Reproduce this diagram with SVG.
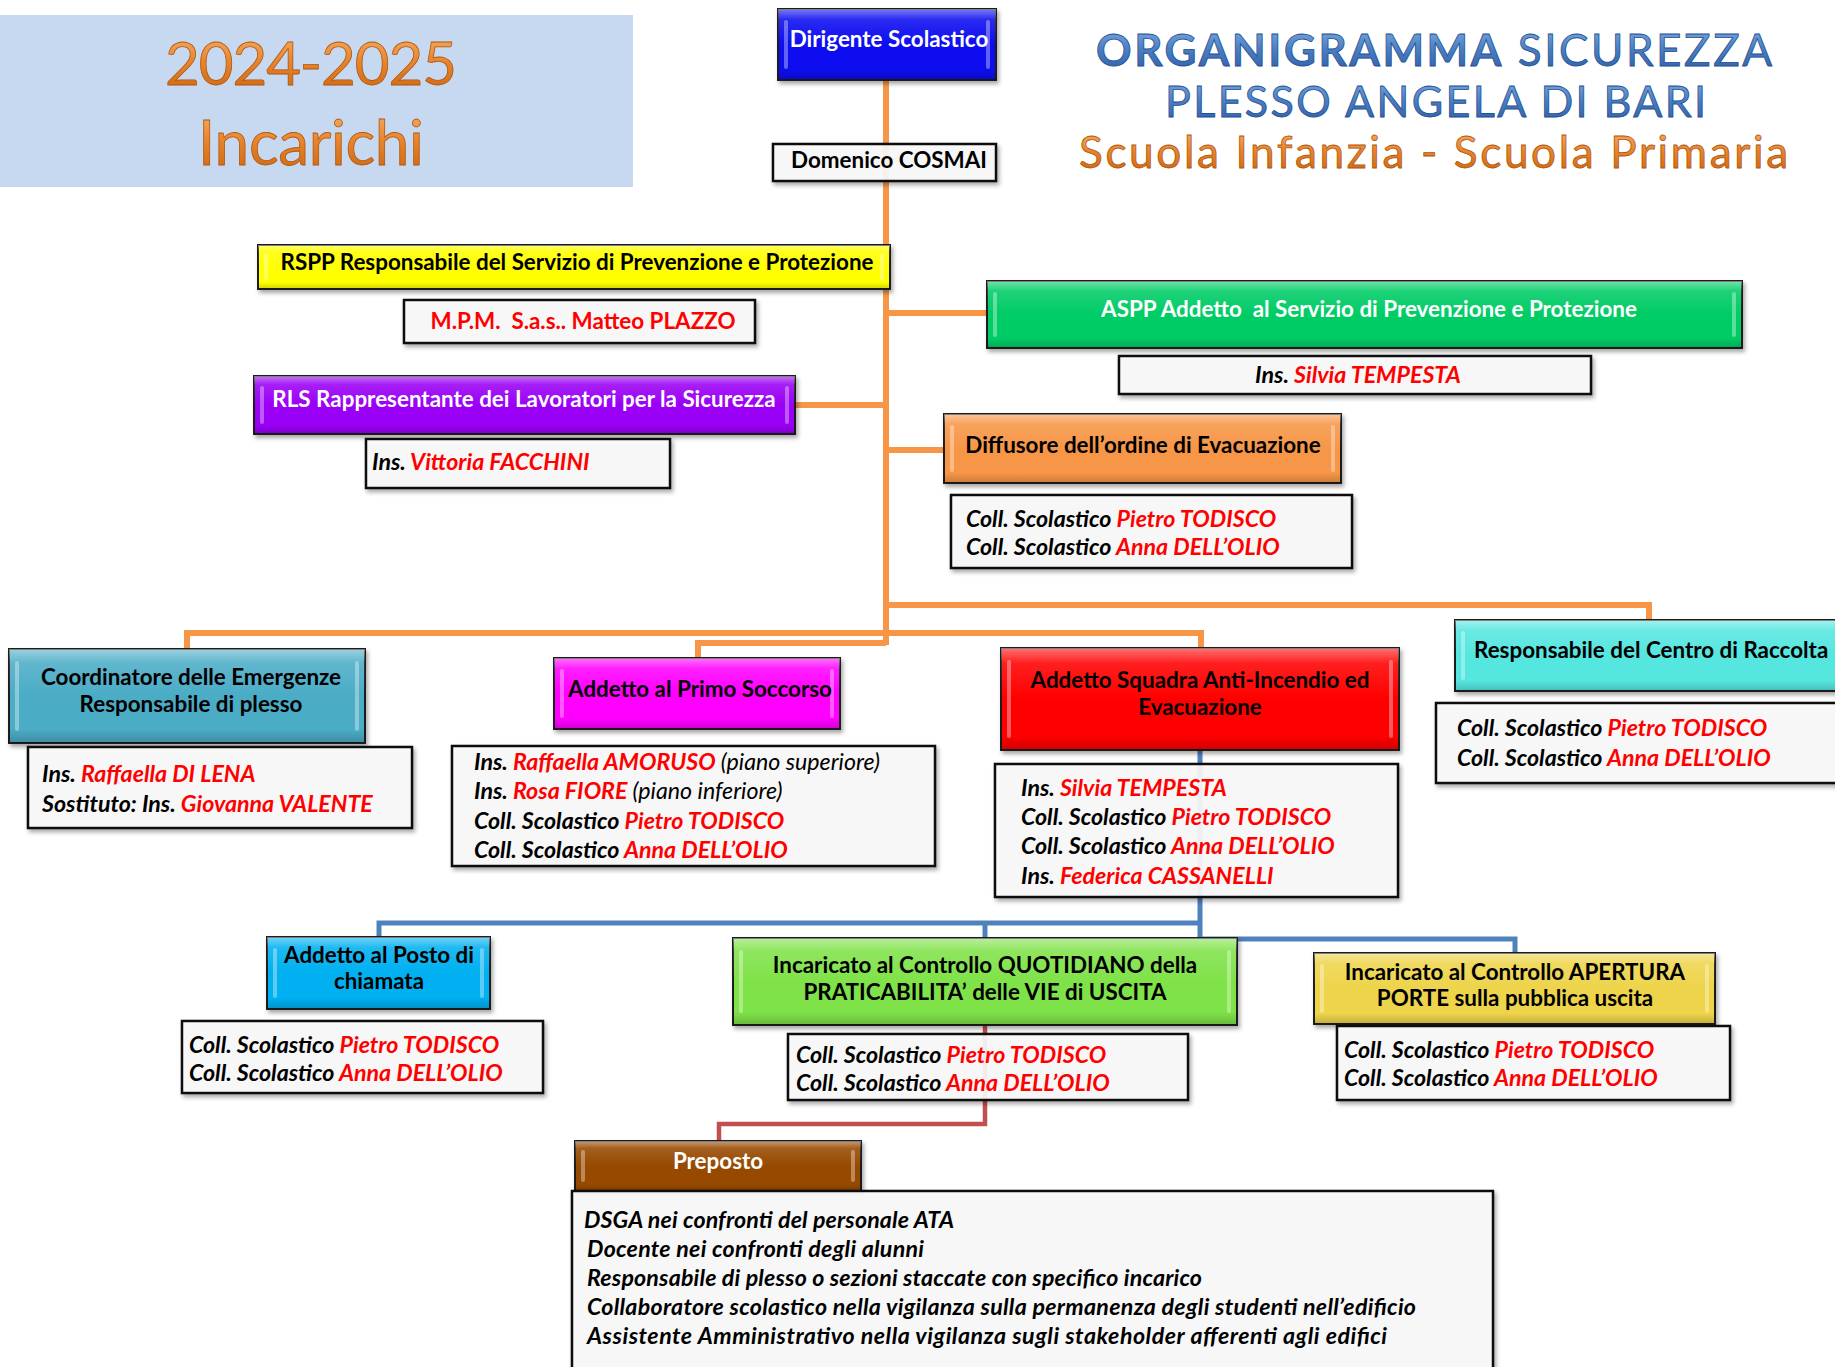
<svg xmlns="http://www.w3.org/2000/svg" width="1835" height="1367" viewBox="0 0 1835 1367">
<defs>
  <filter id="sh" x="-5%" y="-15%" width="112%" height="140%">
    <feDropShadow dx="2" dy="3" stdDeviation="2" flood-color="#000" flood-opacity="0.35"/>
  </filter>
  <linearGradient id="gloss" x1="0" y1="0" x2="0" y2="1">
    <stop offset="0" stop-color="#fff" stop-opacity="0.45"/>
    <stop offset="0.15" stop-color="#fff" stop-opacity="0.12"/>
    <stop offset="0.5" stop-color="#fff" stop-opacity="0"/>
    <stop offset="0.85" stop-color="#000" stop-opacity="0"/>
    <stop offset="1" stop-color="#000" stop-opacity="0.18"/>
  </linearGradient>
  <linearGradient id="org" x1="0" y1="0" x2="0" y2="1">
    <stop offset="0" stop-color="#F9B673"/>
    <stop offset="0.5" stop-color="#E8842C"/>
    <stop offset="1" stop-color="#C9620F"/>
  </linearGradient>
  <linearGradient id="blu" x1="0" y1="0" x2="0" y2="1">
    <stop offset="0" stop-color="#86B2E4"/>
    <stop offset="0.5" stop-color="#4A7FC4"/>
    <stop offset="1" stop-color="#2A5CA6"/>
  </linearGradient>
</defs>
<style>
  text { font-family: Lato, "Open Sans", "Liberation Sans", sans-serif; }
  .h { font-weight: 700; font-size: 22.4px; fill: #000; }
  .w { fill: #fff; }
  .c { text-anchor: middle; }
  .p { font-weight: 700; font-style: italic; font-size: 23.2px; fill: #000; }
  .r { fill: #FF0000; }
  .n { font-weight: 400; }
  .box { stroke: #1b1b1b; stroke-width: 2; filter: url(#sh); }
  .pb { fill: #FBFBFB; fill-opacity: 0.9; stroke: #111; stroke-width: 2.5; filter: url(#sh); }
  .gl { fill: url(#gloss); stroke: none; }
  .bv { fill: #fff; fill-opacity: 0.35; }
  .co { fill: none; stroke: #F79646; stroke-width: 6; }
  .cb { fill: none; stroke: #4F81BD; stroke-width: 5; }
  .cr { fill: none; stroke: #C0504D; stroke-width: 4.5; }
  .tio { fill: url(#org); stroke: #B0570F; stroke-width: 0.8; }
  .tib { fill: url(#blu); stroke: #244F8E; stroke-width: 0.8; }
</style>
<rect width="1835" height="1367" fill="#fff"/>

<g id="header-incarichi">
  <rect x="0" y="15" width="633" height="172" fill="#C6D9F1"/>
  <text class="tio c" x="311" y="85" font-size="60" textLength="292">2024-2025</text>
  <text class="tio c" x="311" y="165" font-size="62" textLength="226">Incarichi</text>
</g>

<g id="title">
  <text class="tib" x="1096" y="66" font-size="44" textLength="676"><tspan font-weight="700">ORGANIGRAMMA</tspan> SICUREZZA</text>
  <text class="tib" x="1165" y="117" font-size="43" textLength="541">PLESSO ANGELA DI BARI</text>
  <text class="tio" x="1079" y="168" font-size="44" textLength="709">Scuola Infanzia - Scuola Primaria</text>
</g>

<g id="connectors">
  <path class="co" d="M886,80 V645"/>
  <path class="co" d="M886,313 H987"/>
  <path class="co" d="M795,405 H886"/>
  <path class="co" d="M886,450 H944"/>
  <path class="co" d="M886,605 H1649 V620"/>
  <path class="co" d="M187,649 V633 H1201 V648"/>
  <path class="co" d="M886,643 H698 V658"/>
  <path class="cb" d="M1200,750 V939"/>
  <path class="cb" d="M1200,923 H379 V937"/>
  <path class="cb" d="M985,923 V938"/>
  <path class="cb" d="M1200,939 H1515 V953"/>
  <path class="cr" d="M985,1025 V1124 H719 V1141"/>
</g>

<g id="dirigente">
  <rect class="box" x="778" y="9" width="218" height="71" fill="#0B0BF0"/>
  <rect class="gl" x="778" y="9" width="218" height="71"/>
  <rect class="bv" x="784" y="20" width="4" height="49" rx="2"/>
  <rect class="bv" x="986" y="20" width="4" height="49" rx="2"/>
  <text class="h w c" x="889" y="47" font-size="23.2">Dirigente Scolastico</text>
</g>

<g id="cosmai">
  <rect class="pb" x="773" y="144" width="223" height="37"/>
  <text class="h c" x="889" y="168" font-size="22.2">Domenico COSMAI</text>
</g>

<g id="rspp">
  <rect class="box" x="258" y="245" width="632" height="44" fill="#FFFF00"/>
  <rect class="gl" x="258" y="245" width="632" height="44"/>
  <rect class="bv" x="264" y="253" width="4" height="28" rx="2"/>
  <rect class="bv" x="880" y="253" width="4" height="28" rx="2"/>
  <text class="h c" x="577" y="270">RSPP Responsabile del Servizio di Prevenzione e Protezione</text>
</g>

<g id="rspp-persona">
  <rect class="pb" x="404" y="300" width="351" height="43"/>
  <text class="h r c" x="583" y="329">M.P.M.&#160; S.a.s.. Matteo PLAZZO</text>
</g>

<g id="rls">
  <rect class="box" x="254" y="376" width="541" height="58" fill="#9A00F5"/>
  <rect class="gl" x="254" y="376" width="541" height="58"/>
  <rect class="bv" x="260" y="386" width="4" height="38" rx="2"/>
  <rect class="bv" x="785" y="386" width="4" height="38" rx="2"/>
  <text class="h w c" x="524" y="407">RLS Rappresentante dei Lavoratori per la Sicurezza</text>
</g>

<g id="rls-persona">
  <rect class="pb" x="366" y="439" width="304" height="49"/>
  <text class="p" x="372" y="470">Ins. <tspan class="r">Vittoria FACCHINI</tspan></text>
</g>

<g id="aspp">
  <rect class="box" x="987" y="281" width="755" height="67" fill="#00CC66"/>
  <rect class="gl" x="987" y="281" width="755" height="67"/>
  <rect class="bv" x="993" y="292" width="4" height="45" rx="2"/>
  <rect class="bv" x="1732" y="292" width="4" height="45" rx="2"/>
  <text class="h w c" x="1369" y="317">ASPP Addetto&#160; al Servizio di Prevenzione e Protezione</text>
</g>

<g id="aspp-persona">
  <rect class="pb" x="1119" y="356" width="472" height="38"/>
  <text class="p c" x="1358" y="383">Ins. <tspan class="r">Silvia TEMPESTA</tspan></text>
</g>

<g id="diffusore">
  <rect class="box" x="944" y="414" width="397" height="69" fill="#F79646"/>
  <rect class="gl" x="944" y="414" width="397" height="69"/>
  <rect class="bv" x="950" y="425" width="4" height="47" rx="2"/>
  <rect class="bv" x="1331" y="425" width="4" height="47" rx="2"/>
  <text class="h c" x="1143" y="453">Diffusore dell’ordine di Evacuazione</text>
</g>

<g id="diffusore-persone">
  <rect class="pb" x="951" y="495" width="401" height="73"/>
  <text class="p" x="966" y="527">Coll. Scolastico <tspan class="r">Pietro TODISCO</tspan></text>
  <text class="p" x="966" y="555">Coll. Scolastico <tspan class="r">Anna DELL’OLIO</tspan></text>
</g>

<g id="coordinatore">
  <rect class="box" x="9" y="649" width="356" height="94" fill="#4BACC6"/>
  <rect class="gl" x="9" y="649" width="356" height="94"/>
  <rect class="bv" x="15" y="661" width="4" height="70" rx="2"/>
  <rect class="bv" x="355" y="661" width="4" height="70" rx="2"/>
  <text class="h c" x="191" y="685">Coordinatore delle Emergenze</text>
  <text class="h c" x="191" y="712">Responsabile di plesso</text>
</g>

<g id="coordinatore-persone">
  <rect class="pb" x="28" y="747" width="384" height="81"/>
  <text class="p" x="42" y="782">Ins. <tspan class="r">Raffaella DI LENA</tspan></text>
  <text class="p" x="42" y="812">Sostituto: Ins. <tspan class="r">Giovanna VALENTE</tspan></text>
</g>

<g id="primo-soccorso">
  <rect class="box" x="554" y="658" width="286" height="71" fill="#FF00FF"/>
  <rect class="gl" x="554" y="658" width="286" height="71"/>
  <rect class="bv" x="560" y="669" width="4" height="49" rx="2"/>
  <rect class="bv" x="830" y="669" width="4" height="49" rx="2"/>
  <text class="h c" x="700" y="697">Addetto al Primo Soccorso</text>
</g>

<g id="primo-soccorso-persone">
  <rect class="pb" x="452" y="746" width="483" height="120"/>
  <text class="p" x="474" y="770">Ins. <tspan class="r">Raffaella AMORUSO</tspan> <tspan class="n">(piano superiore)</tspan></text>
  <text class="p" x="474" y="799">Ins. <tspan class="r">Rosa FIORE</tspan> <tspan class="n">(piano inferiore)</tspan></text>
  <text class="p" x="474" y="829">Coll. Scolastico <tspan class="r">Pietro TODISCO</tspan></text>
  <text class="p" x="474" y="858">Coll. Scolastico <tspan class="r">Anna DELL’OLIO</tspan></text>
</g>

<g id="antincendio">
  <rect class="box" x="1001" y="648" width="398" height="102" fill="#FF0000"/>
  <rect class="gl" x="1001" y="648" width="398" height="102"/>
  <rect class="bv" x="1007" y="660" width="4" height="78" rx="2"/>
  <rect class="bv" x="1389" y="660" width="4" height="78" rx="2"/>
  <text class="h c" x="1200" y="688">Addetto Squadra Anti-Incendio ed</text>
  <text class="h c" x="1200" y="715">Evacuazione</text>
</g>

<g id="antincendio-persone">
  <rect class="pb" x="995" y="764" width="403" height="133"/>
  <text class="p" x="1021" y="796">Ins. <tspan class="r">Silvia TEMPESTA</tspan></text>
  <text class="p" x="1021" y="825">Coll. Scolastico <tspan class="r">Pietro TODISCO</tspan></text>
  <text class="p" x="1021" y="854">Coll. Scolastico <tspan class="r">Anna DELL’OLIO</tspan></text>
  <text class="p" x="1021" y="884">Ins. <tspan class="r">Federica CASSANELLI</tspan></text>
</g>

<g id="centro-raccolta">
  <rect class="box" x="1455" y="620" width="420" height="71" fill="#57E6E0"/>
  <rect class="gl" x="1455" y="620" width="420" height="71"/>
  <rect class="bv" x="1461" y="631" width="4" height="49" rx="2"/>
  <text class="h" x="1474" y="658">Responsabile del Centro di Raccolta</text>
</g>

<g id="centro-raccolta-persone">
  <rect class="pb" x="1436" y="703" width="420" height="80"/>
  <text class="p" x="1457" y="736">Coll. Scolastico <tspan class="r">Pietro TODISCO</tspan></text>
  <text class="p" x="1457" y="766">Coll. Scolastico <tspan class="r">Anna DELL’OLIO</tspan></text>
</g>

<g id="posto-chiamata">
  <rect class="box" x="267" y="937" width="223" height="72" fill="#00B0F0"/>
  <rect class="gl" x="267" y="937" width="223" height="72"/>
  <rect class="bv" x="273" y="948" width="4" height="50" rx="2"/>
  <rect class="bv" x="480" y="948" width="4" height="50" rx="2"/>
  <text class="h c" x="379" y="963">Addetto al Posto di</text>
  <text class="h c" x="379" y="989">chiamata</text>
</g>

<g id="posto-chiamata-persone">
  <rect class="pb" x="182" y="1021" width="361" height="72"/>
  <text class="p" x="189" y="1053">Coll. Scolastico <tspan class="r">Pietro TODISCO</tspan></text>
  <text class="p" x="189" y="1081">Coll. Scolastico <tspan class="r">Anna DELL’OLIO</tspan></text>
</g>

<g id="controllo-quotidiano">
  <rect class="box" x="733" y="938" width="504" height="87" fill="#80E24A"/>
  <rect class="gl" x="733" y="938" width="504" height="87"/>
  <rect class="bv" x="739" y="950" width="4" height="63" rx="2"/>
  <rect class="bv" x="1227" y="950" width="4" height="63" rx="2"/>
  <text class="h c" x="985" y="973" font-size="22">Incaricato al Controllo QUOTIDIANO della</text>
  <text class="h c" x="985" y="1000" font-size="22">PRATICABILITA’ delle VIE di USCITA</text>
</g>

<g id="controllo-quotidiano-persone">
  <rect class="pb" x="788" y="1034" width="400" height="66"/>
  <text class="p" x="796" y="1063">Coll. Scolastico <tspan class="r">Pietro TODISCO</tspan></text>
  <text class="p" x="796" y="1091">Coll. Scolastico <tspan class="r">Anna DELL’OLIO</tspan></text>
</g>

<g id="controllo-apertura">
  <rect class="box" x="1314" y="953" width="401" height="71" fill="#EED44C"/>
  <rect class="gl" x="1314" y="953" width="401" height="71"/>
  <rect class="bv" x="1320" y="964" width="4" height="49" rx="2"/>
  <rect class="bv" x="1705" y="964" width="4" height="49" rx="2"/>
  <text class="h c" x="1515" y="980" font-size="22">Incaricato al Controllo APERTURA</text>
  <text class="h c" x="1515" y="1006" font-size="22">PORTE sulla pubblica uscita</text>
</g>

<g id="controllo-apertura-persone">
  <rect class="pb" x="1337" y="1026" width="393" height="74"/>
  <text class="p" x="1344" y="1058">Coll. Scolastico <tspan class="r">Pietro TODISCO</tspan></text>
  <text class="p" x="1344" y="1086">Coll. Scolastico <tspan class="r">Anna DELL’OLIO</tspan></text>
</g>

<g id="preposto">
  <rect class="box" x="575" y="1141" width="286" height="50" fill="#974806"/>
  <rect class="gl" x="575" y="1141" width="286" height="50"/>
  <rect class="bv" x="581" y="1150" width="4" height="32" rx="2"/>
  <rect class="bv" x="851" y="1150" width="4" height="32" rx="2"/>
  <text class="h w c" x="718" y="1169">Preposto</text>
</g>

<g id="preposto-persone">
  <rect class="pb" x="572" y="1191" width="921" height="200"/>
  <text class="p" x="584" y="1228" textLength="370">DSGA nei confronti del personale ATA</text>
  <text class="p" x="587" y="1257" textLength="337">Docente nei confronti degli alunni</text>
  <text class="p" x="587" y="1286" textLength="615">Responsabile di plesso o sezioni staccate con specifico incarico</text>
  <text class="p" x="587" y="1315" textLength="829">Collaboratore scolastico nella vigilanza sulla permanenza degli studenti nell’edificio</text>
  <text class="p" x="587" y="1344" textLength="800">Assistente Amministrativo nella vigilanza sugli stakeholder afferenti agli edifici</text>
</g>
</svg>
